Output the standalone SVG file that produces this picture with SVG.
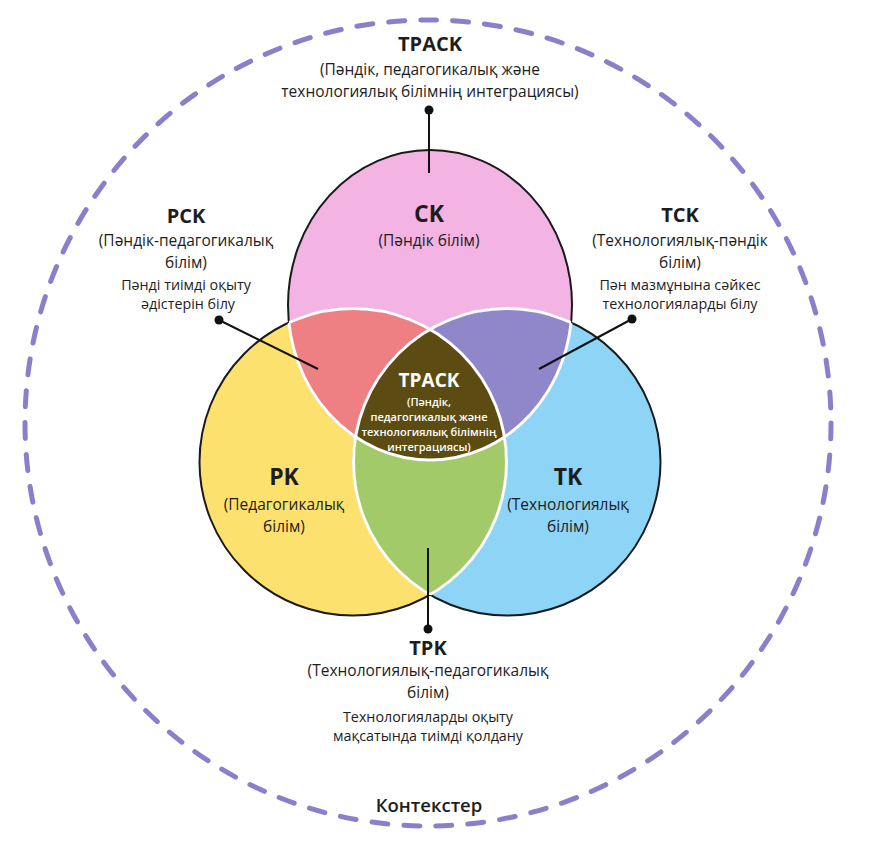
<svg xmlns="http://www.w3.org/2000/svg" width="870" height="844" viewBox="0 0 870 844">
<style>
text{font-family:"Open Sans","Noto Sans","DejaVu Sans",sans-serif;fill:#1d1d1d;text-anchor:middle}
.t{font-size:20px;font-weight:700}
.big{font-size:23px;font-weight:700}
.p{font-size:15.5px;font-weight:500}
.d{font-size:14.3px;font-weight:500}
.w{fill:#ffffff}
.s{font-size:11px;font-weight:600}
.edge{fill:none;stroke:#1a1a1a;stroke-width:2}
.inner{fill:none;stroke:#ffffff;stroke-width:3}
.con{stroke:#111;stroke-width:2;fill:none}
.dot{fill:#111}
</style>
<defs>
<clipPath id="cP"><ellipse cx="430" cy="305" rx="142" ry="155"/></clipPath>
<clipPath id="cY"><circle cx="353" cy="462" r="153.5"/></clipPath>
<clipPath id="cB"><circle cx="507" cy="462" r="153.5"/></clipPath>
<clipPath id="cYB"><circle cx="353" cy="462" r="153.5"/><circle cx="507" cy="462" r="153.5"/></clipPath>
<clipPath id="cPB"><ellipse cx="430" cy="305" rx="142" ry="155"/><circle cx="507" cy="462" r="153.5"/></clipPath>
<clipPath id="cPY"><ellipse cx="430" cy="305" rx="142" ry="155"/><circle cx="353" cy="462" r="153.5"/></clipPath>
</defs>
<rect width="870" height="844" fill="#ffffff"/>
<g id="context">
<circle cx="428" cy="423" r="403" fill="none" stroke="#8B7FCB" stroke-width="5" stroke-linecap="round" stroke-dasharray="16 16.05"/>
<text x="429" y="812" style="font-size:18.5px;font-weight:600">Контекстер</text>
</g>
<g id="node-ck">
<ellipse cx="430" cy="305" rx="142" ry="155" fill="#F3B3E3"/>
<text class="big" x="429" y="222">CK</text>
<text class="p" x="429" y="246">(Пәндік білім)</text>
</g>
<g id="node-pk">
<circle cx="353" cy="462" r="153.5" fill="#FDE16E"/>
<text class="big" x="284" y="485">PK</text>
<text class="p" x="284" y="510">(Педагогикалық</text>
<text class="p" x="284" y="532">білім)</text>
</g>
<g id="node-tk">
<circle cx="507" cy="462" r="153.5" fill="#8DD4F6"/>
<text class="big" x="568" y="485">TK</text>
<text class="p" x="568" y="510">(Технологиялық</text>
<text class="p" x="568" y="532">білім)</text>
</g>
<g id="node-pck">
<ellipse cx="430" cy="305" rx="142" ry="155" fill="#EE7F83" clip-path="url(#cY)"/>
<text class="t" x="186" y="223">PCK</text>
<text class="p" x="186" y="246">(Пәндік-педагогикалық</text>
<text class="p" x="186" y="268">білім)</text>
<text class="d" x="186" y="290">Пәнді тиімді оқыту</text>
<text class="d" x="188" y="309">әдістерін білу</text>
</g>
<g id="node-tck">
<ellipse cx="430" cy="305" rx="142" ry="155" fill="#8F87C9" clip-path="url(#cB)"/>
<text class="t" x="680" y="222">TCK</text>
<text class="p" x="680" y="246">(Технологиялық-пәндік</text>
<text class="p" x="680" y="268">білім)</text>
<text class="d" x="680" y="290">Пән мазмұнына сәйкес</text>
<text class="d" x="680" y="309">технологияларды білу</text>
</g>
<g id="node-tpk">
<circle cx="353" cy="462" r="153.5" fill="#A3CA68" clip-path="url(#cB)"/>
<text class="t" x="428" y="655">TPK</text>
<text class="p" x="428" y="676">(Технологиялық-педагогикалық</text>
<text class="p" x="428" y="698">білім)</text>
<text class="d" x="428" y="722">Технологияларды оқыту</text>
<text class="d" x="428" y="741">мақсатында тиімді қолдану</text>
</g>
<g id="node-tpack">
<g clip-path="url(#cY)"><ellipse cx="430" cy="305" rx="142" ry="155" fill="#5D4C12" clip-path="url(#cB)"/></g>
<text class="t w" x="429" y="387" style="font-size:19px">TPACK</text>
<text class="s w" x="429" y="406">(Пәндік,</text>
<text class="s w" x="429" y="421">педагогикалық және</text>
<text class="s w" x="429" y="436">технологиялық білімнің</text>
<text class="s w" x="429" y="451">интеграциясы)</text>
</g>
<g id="outlines">
<ellipse class="edge" cx="430" cy="305" rx="142" ry="155"/>
<circle class="edge" cx="353" cy="462" r="153.5"/>
<circle class="edge" cx="507" cy="462" r="153.5"/>
<ellipse class="inner" cx="430" cy="305" rx="142" ry="155" clip-path="url(#cYB)"/>
<circle class="inner" cx="353" cy="462" r="153.5" clip-path="url(#cPB)"/>
<circle class="inner" cx="507" cy="462" r="153.5" clip-path="url(#cPY)"/>
</g>
<g id="node-tpack-label">
<text class="t" x="430" y="51">TPACK</text>
<text class="p" x="430" y="75">(Пәндік, педагогикалық және</text>
<text class="p" x="430" y="97">технологиялық білімнің интеграциясы)</text>
</g>
<g id="connectors">
<line class="con" x1="429" y1="110" x2="429" y2="173"/>
<circle class="dot" cx="429" cy="110" r="4.5"/>
<line class="con" x1="219" y1="320" x2="318" y2="369"/>
<circle class="dot" cx="219" cy="320" r="4.5"/>
<line class="con" x1="632" y1="319" x2="539" y2="369"/>
<circle class="dot" cx="632" cy="319" r="4.5"/>
<line class="con" x1="428" y1="548" x2="428" y2="629"/>
<circle class="dot" cx="428" cy="629" r="4.5"/>
</g>
</svg>
